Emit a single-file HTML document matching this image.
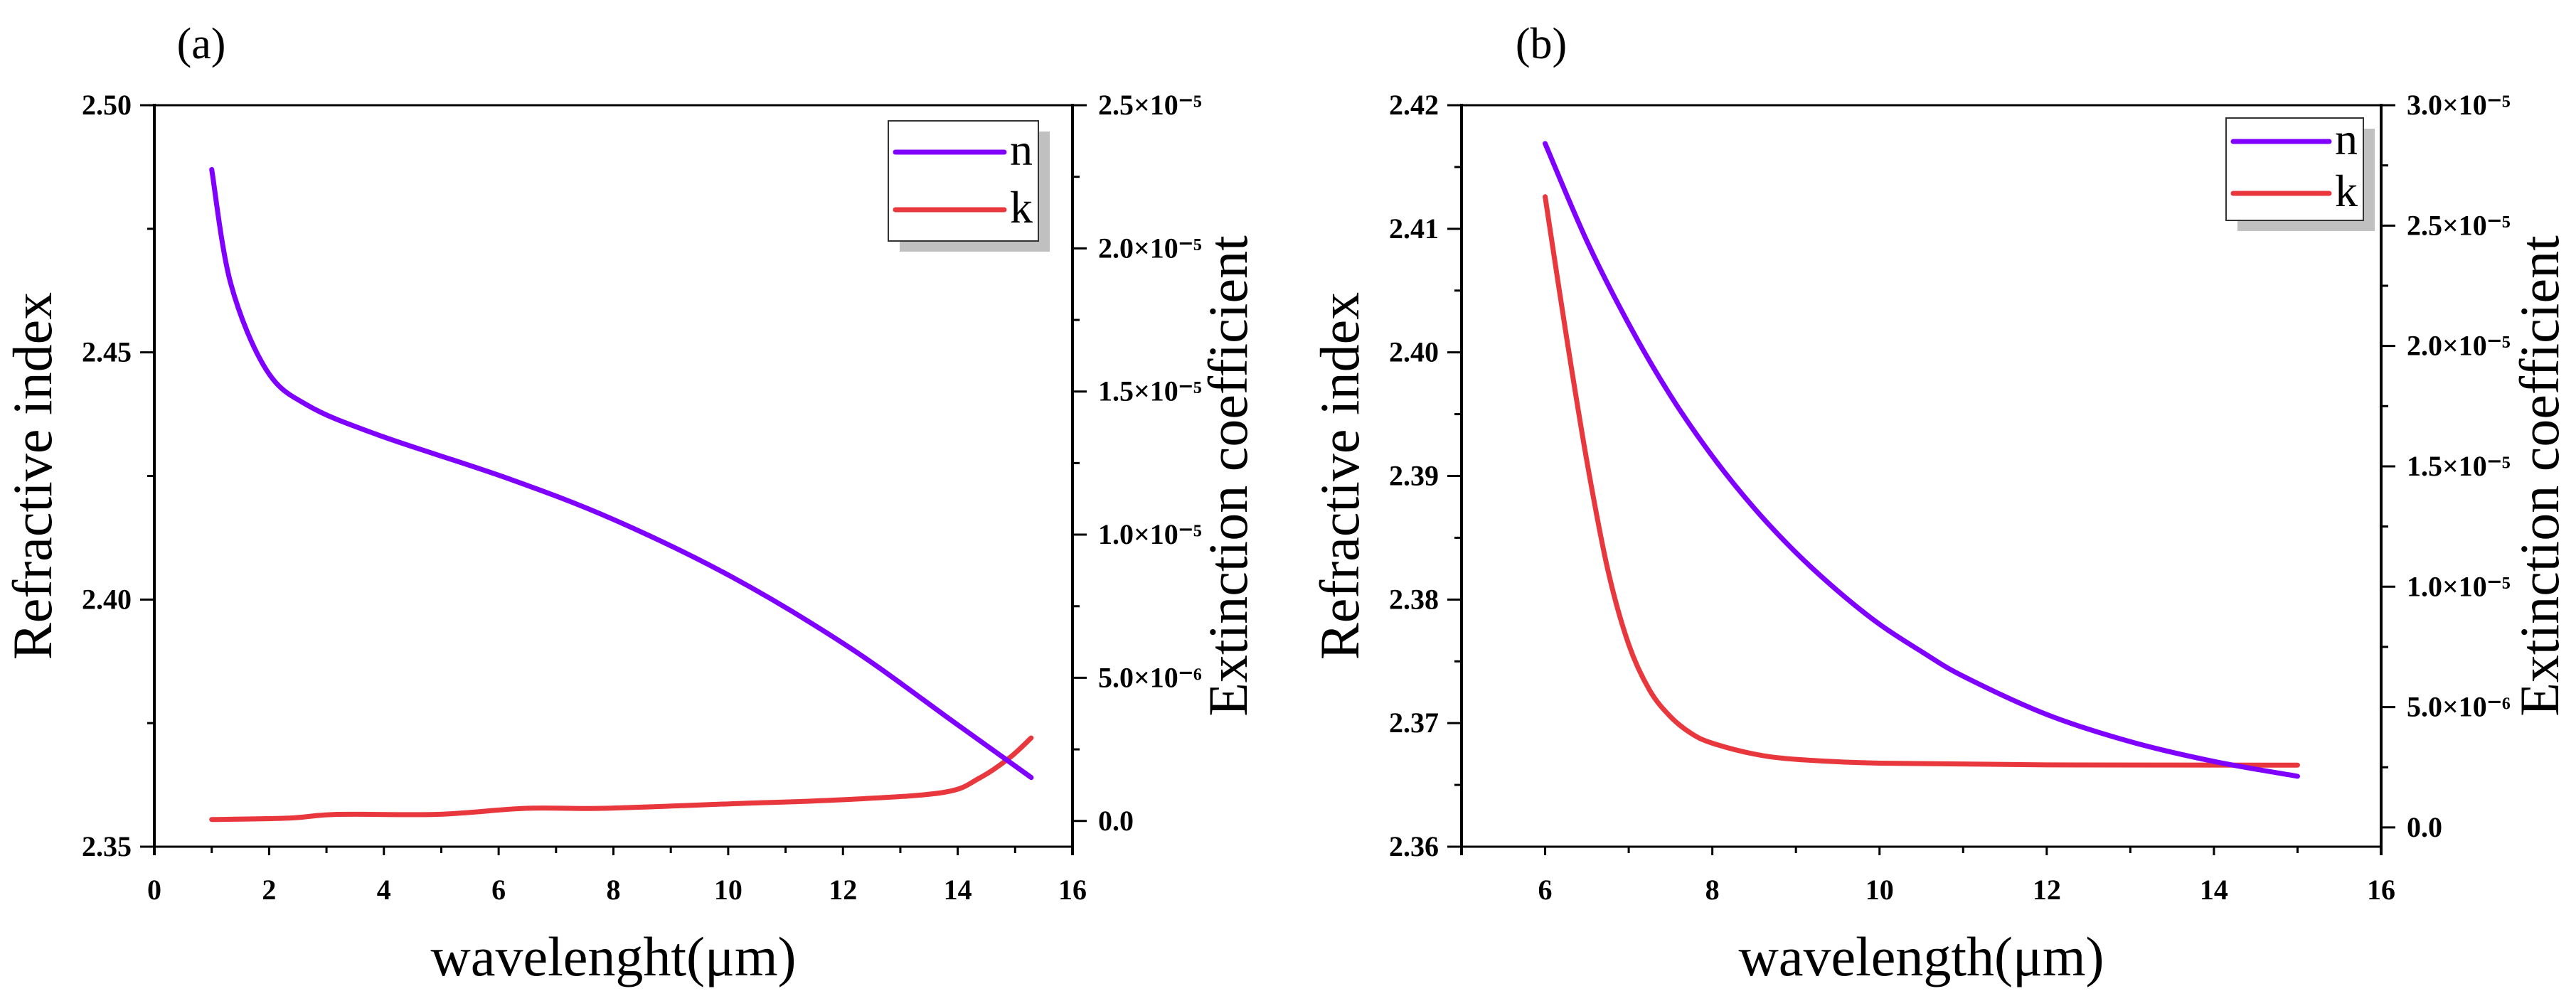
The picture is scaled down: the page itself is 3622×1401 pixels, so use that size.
<!DOCTYPE html>
<html><head><meta charset="utf-8"><style>
html,body{margin:0;padding:0;background:#fff;}
svg{display:block;}
text{font-family:"Liberation Serif",serif;}
.tick{font-weight:bold;font-size:40px;fill:#000;}
.title{font-size:78px;fill:#000;}
</style></head><body>
<svg id="chart" width="3622" height="1401" viewBox="0 0 3622 1401" xmlns="http://www.w3.org/2000/svg"></svg>
<script>
// Panel (a) data
const aNx = [1.0,1.33,1.95,2.67,3.9,6.16,8.0,10.06,12.1,13.97,15.28];
const aNy = [2.487,2.464,2.4465,2.4393,2.4333,2.4245,2.4162,2.4046,2.3904,2.3749,2.364];
const aKx = [1.0,2.35,3.18,4.93,6.47,7.8,10.06,12.1,13.76,14.38,14.9,15.28];
const aKy = [0.05e-6,0.1e-6,0.23e-6,0.23e-6,0.44e-6,0.44e-6,0.6e-6,0.75e-6,1.0e-6,1.5e-6,2.2e-6,2.9e-6];
const aXTicks = [0,2,4,6,8,10,12,14,16];
const aLTicks = ["2.35","2.40","2.45","2.50"];
const aRTicks = [0,5e-6,1e-5,1.5e-5,2e-5,2.5e-5];
const aRLabels = ["0.0","5.0×10⁻⁶","1.0×10⁻⁵","1.5×10⁻⁵","2.0×10⁻⁵","2.5×10⁻⁵"];
// Panel (b) data
const bNx = [6,6.5,7,7.5,8,8.5,9,9.5,10,10.5,11,12,13,14,15];
const bNy = [2.4169,2.4090,2.4023,2.3965,2.3916,2.3874,2.3838,2.3807,2.3780,2.3758,2.3738,2.3707,2.3685,2.3669,2.3657];
const bKx = [6,6.25,6.5,6.75,7.0,7.25,7.5,7.75,8,8.5,9,10,12,15];
const bKy = [2.62e-5,2.05e-5,1.52e-5,1.07e-5,0.76e-5,0.57e-5,0.46e-5,0.39e-5,0.35e-5,0.305e-5,0.283e-5,0.267e-5,0.26e-5,0.259e-5];
const bXTicks = [6,8,10,12,14,16];
const bLTicks = ["2.36","2.37","2.38","2.39","2.40","2.41","2.42"];
const bRTicks = [0,5e-6,1e-5,1.5e-5,2e-5,2.5e-5,3e-5];
const bRLabels = ["0.0","5.0×10⁻⁶","1.0×10⁻⁵","1.5×10⁻⁵","2.0×10⁻⁵","2.5×10⁻⁵","3.0×10⁻⁵"];

const NS="http://www.w3.org/2000/svg";
const svg=document.getElementById('chart');
function mk(tag,attrs,parent){const e=document.createElementNS(NS,tag);for(const k in attrs)e.setAttribute(k,attrs[k]);(parent||svg).appendChild(e);return e;}
function smooth(pts){let d=`M${pts[0][0]},${pts[0][1]}`;for(let i=0;i<pts.length-1;i++){const p0=pts[Math.max(0,i-1)],p1=pts[i],p2=pts[i+1],p3=pts[Math.min(pts.length-1,i+2)];const c1=[p1[0]+(p2[0]-p0[0])/6,p1[1]+(p2[1]-p0[1])/6],c2=[p2[0]-(p3[0]-p1[0])/6,p2[1]-(p3[1]-p1[1])/6];d+=`C${c1[0]},${c1[1]} ${c2[0]},${c2[1]} ${p2[0]},${p2[1]}`;}return d;}

function panel(o){
  const g=mk('g',{});
  
  
  const X=v=>o.L+(v-o.xmin)/(o.xmax-o.xmin)*(o.R-o.L);
  const YL=v=>o.B-(v-o.lmin)/(o.lmax-o.lmin)*(o.B-o.T);
  const YR=v=>o.B-(v-o.rmin)/(o.rmax-o.rmin)*(o.B-o.T);
  const top=mk('line',{x1:o.L,y1:o.T,x2:o.R,y2:o.T,stroke:'#000','stroke-width':3},g);
  
  const xa=mk('line',{x1:o.L-20,y1:o.B,x2:o.R+2,y2:o.B,stroke:'#000','stroke-width':3},g);
  
  const la=mk('line',{x1:o.L,y1:o.T-2,x2:o.L,y2:o.B+12,stroke:'#000','stroke-width':4},g);
  
  const ra=mk('line',{x1:o.R,y1:o.T-2,x2:o.R,y2:o.B+12,stroke:'#000','stroke-width':4},g);
  
  for(let v=Math.ceil(o.xmin);v<=o.xmax;v++){const maj=o.xt.includes(v);mk('line',{x1:X(v),y1:o.B,x2:X(v),y2:o.B+(maj?12:9),stroke:'#000','stroke-width':3},g);}
  o.xt.forEach(v=>{const t=mk('text',{x:X(v),y:o.B+74,'text-anchor':'middle',class:'tick'},g);t.textContent=v;
    });
  o.lt.forEach((s,i)=>{const v=parseFloat(s),y=YL(v);mk('line',{x1:o.L-20,y1:y,x2:o.L,y2:y,stroke:'#000','stroke-width':3},g);
    if(i<o.lt.length-1){const ym=YL(v+o.lstep/2);mk('line',{x1:o.L-10,y1:ym,x2:o.L,y2:ym,stroke:'#000','stroke-width':3},g);}
    const t=mk('text',{x:o.L-32,y:y+13,'text-anchor':'end',class:'tick'},g);t.textContent=s;
    });
  o.rt.forEach((v,i)=>{const y=YR(v);mk('line',{x1:o.R,y1:y,x2:o.R+20,y2:y,stroke:'#000','stroke-width':3},g);
    if(i<o.rt.length-1){const ym=YR(v+2.5e-6);mk('line',{x1:o.R,y1:ym,x2:o.R+10,y2:ym,stroke:'#000','stroke-width':3},g);}
    const t=mk('text',{x:o.R+36,y:y+13,class:'tick'},g);t.textContent=o.rl[i];
    });
  const cy=(o.T+o.B)/2;
  const lt=mk('text',{x:0,y:0,class:'title','text-anchor':'middle',transform:`translate(${o.ltx},${cy}) rotate(-90)`},g);lt.textContent='Refractive index';
  
  const rt=mk('text',{x:0,y:0,class:'title','text-anchor':'middle',transform:`translate(${o.rtx},${cy}) rotate(-90)`},g);rt.textContent='Extinction coefficient';
  
  const xt=mk('text',{x:(o.L+o.R)/2,y:1372,class:'title','text-anchor':'middle'},g);xt.textContent=o.xtitle;
  
  const pl=mk('text',{x:o.plx,y:82,'font-size':'62px','text-anchor':'middle'},g);pl.textContent=o.plabel;
  
  const kp=mk('path',{d:smooth(o.kx.map((x,i)=>[X(x),YR(o.ky[i])])),fill:'none',stroke:'#e8383d','stroke-width':7,'stroke-linecap':'round'},g);
  
  const np=mk('path',{d:smooth(o.nx.map((x,i)=>[X(x),YL(o.ny[i])])),fill:'none',stroke:'#7f00ff','stroke-width':7,'stroke-linecap':'round'},g);
  
  const lg=o.leg;
  const lgg=mk('g',{},g);
  
  mk('rect',{x:lg.x+16,y:lg.y+15,width:lg.w,height:lg.h,fill:'#c0c0c0'},lgg);
  mk('rect',{x:lg.x,y:lg.y,width:lg.w,height:lg.h,fill:'#fff',stroke:'#333','stroke-width':2},lgg);
  [['n','#7f00ff',lg.y1],['k','#e8383d',lg.y2]].forEach(([s,c,y])=>{
    const ln=mk('line',{x1:lg.x+10,y1:y,x2:lg.x+lg.w-48,y2:y,stroke:c,'stroke-width':7,'stroke-linecap':'round'},lgg);
    
    const t=mk('text',{x:lg.x+lg.w-40,y:y+18,'font-size':'64px'},lgg);t.textContent=s;
    });
}

panel({id:'a',L:217,R:1508,T:148,B:1191,xmin:0,xmax:16,lmin:2.35,lmax:2.50,lstep:0.05,rmin:-0.9e-6,rmax:2.5e-5,
  xt:aXTicks,lt:aLTicks,rt:aRTicks,rl:aRLabels,nx:aNx,ny:aNy,kx:aKx,ky:aKy,
  ltx:72,rtx:1753,xtitle:'wavelenght(μm)',plx:283,plabel:'(a)',
  leg:{x:1249,y:170,w:211,h:169,y1:214,y2:295}});
panel({id:'b',L:2055,R:3348,T:148,B:1191,xmin:5,xmax:16,lmin:2.36,lmax:2.42,lstep:0.01,rmin:-0.8e-6,rmax:3.0e-5,
  xt:bXTicks,lt:bLTicks,rt:bRTicks,rl:bRLabels,nx:bNx,ny:bNy,kx:bKx,ky:bKy,
  ltx:1910,rtx:3597,xtitle:'wavelength(μm)',plx:2167,plabel:'(b)',
  leg:{x:3130,y:166,w:193,h:144,y1:199,y2:272}});
</script>
</body></html>
